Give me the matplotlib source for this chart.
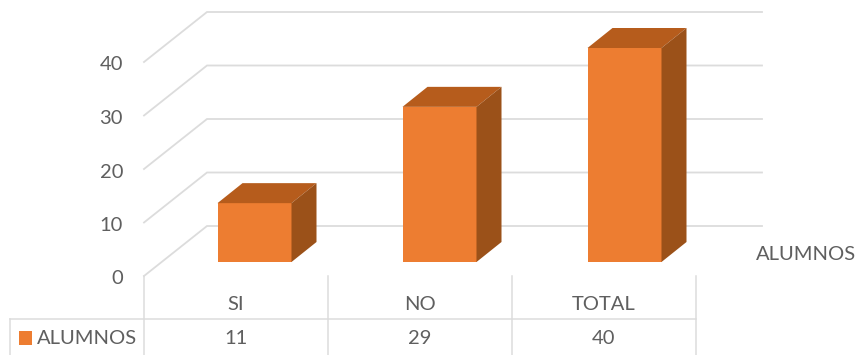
import matplotlib
matplotlib.use('Agg')
import matplotlib.pyplot as plt
from matplotlib.patches import Polygon, Rectangle
from matplotlib.transforms import Affine2D

categories = ['SI', 'NO', 'TOTAL']
alumnos = [11, 29, 40]
y_ticks = [0, 10, 20, 30, 40]
series_name = 'ALUMNOS'

W, H = 858, 355
FONT = 'Lato'
FS = 14.5
TEXT = '#5f5f5f'
GRID = '#dcdcdc'
FRONT, TOP, SIDE = '#ed7d31', '#b65c1c', '#9b5119'

# scale of the picture: pixels per category / per unit of value
PX_X = 185.0
PX_Y = 5.35
X0_PX = 254.5          # centre of first bar
Y0_PX = 262.0          # bar base

fig = plt.figure(figsize=(W / 100, H / 100), dpi=100)
ax = fig.add_axes([0, 0, 1, 1])
ax.set_xlim(-X0_PX / PX_X, (W - X0_PX) / PX_X)
ax.set_ylim((Y0_PX - H) / PX_Y, Y0_PX / PX_Y)
ax.axis('off')

# pixel transform for the furniture round the plot (table, labels)
px = Affine2D().scale(1 / W, -1 / H).translate(0, 1) + fig.transFigure


def dx(p):
    return p / PX_X


def dy(p):
    return p / PX_Y


# back wall and side wall gridlines
for v in y_ticks:
    back = v + dy(36)
    front = v - dy(14)
    ax.plot([dx(144 - X0_PX), dx(207 - X0_PX), dx(762 - X0_PX)], [front, back, back],
            color=GRID, lw=1.3, solid_joinstyle='miter', zorder=1)
    ax.text(dx(123 - X0_PX), front - dy(3), str(v), ha='right', va='center', fontsize=FS,
            family=FONT, color=TEXT)

# 3d bars
half = dx(37)
ddx, ddy = dx(25), dy(20)
for i, v in enumerate(alumnos):
    ax.add_patch(Rectangle((i - half, 0), 2 * half, v, fc=FRONT, ec='none', zorder=3))
    ax.add_patch(Polygon([(i - half, v), (i + half, v), (i + half + ddx, v + ddy), (i - half + ddx, v + ddy)],
                         fc=TOP, ec='none', zorder=3))
    ax.add_patch(Polygon([(i + half, 0), (i + half + ddx, ddy), (i + half + ddx, v + ddy), (i + half, v)],
                         fc=SIDE, ec='none', zorder=3))

# data table under the plot
for x in [144, 328, 512, 696]:
    ax.plot([x, x], [276, 355], color=GRID, lw=1.1, transform=px, zorder=1)
ax.plot([10, 696], [319, 319], color=GRID, lw=1.1, transform=px, zorder=1)
ax.plot([10, 10], [319, 355], color=GRID, lw=1.1, transform=px, zorder=1)

for i, (c, v) in enumerate(zip(categories, alumnos)):
    xc = 236 + 184 * i
    ax.text(xc, 304, c, ha='center', va='center', fontsize=FS, family=FONT, color=TEXT, transform=px)
    ax.text(xc, 338, str(v), ha='center', va='center', fontsize=FS, family=FONT, color=TEXT, transform=px)

ax.add_patch(Rectangle((19, 331), 13, 14, fc=FRONT, ec='none', transform=px))
ax.text(37, 338, series_name, ha='left', va='center', fontsize=FS, family=FONT, color=TEXT, transform=px)
ax.text(756, 255, series_name, ha='left', va='center', fontsize=FS, family=FONT, color=TEXT, transform=px)

fig.savefig('out.png', dpi=100)
